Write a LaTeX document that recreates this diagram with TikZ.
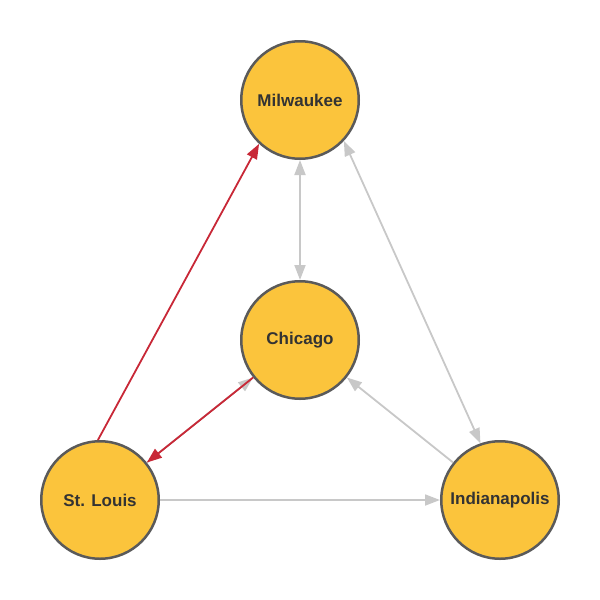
\documentclass[tikz,border=0pt]{standalone}
\usepackage{fontspec}
\setmainfont{Liberation Sans}
\usetikzlibrary{arrows.meta}
\definecolor{cityfill}{RGB}{251,196,60}
\definecolor{bordergray}{RGB}{90,90,90}
\definecolor{linkgray}{RGB}{200,200,200}
\definecolor{linkred}{RGB}{200,40,55}
\definecolor{textgray}{RGB}{51,51,51}
\begin{document}
\begin{tikzpicture}[x=1pt,y=-1pt,
  city/.style={circle,draw=bordergray,line width=2.5pt,fill=cityfill,minimum size=117.5pt,inner sep=0pt,font=\bfseries\fontsize{17}{20}\selectfont,text=textgray},
  tipa/.tip={Triangle[length=15pt,width=11pt]},
  link/.style={draw=linkgray,line width=1.8pt},
  redlink/.style={draw=linkred,line width=1.8pt}]
\useasboundingbox (0,0) rectangle (600,600);
\node[city] (mil) at (300,100) {Milwaukee};
\node[city] (chi) at (300,340) {Chicago};
\node[city] (stl) at (100,500) {St. Louis};
\node[city] (ind) at (500,500) {Indianapolis};
\draw[link,{tipa}-{tipa}] (mil) -- (chi);
\draw[link,{tipa}-{tipa}] (mil.-43) -- (ind.109);
\draw[link,-{tipa}] (ind) -- (chi);
\draw[link,-{tipa}] (stl) -- (ind);
\draw[link,-{tipa}] (stl) -- (chi);
\draw[redlink,-{tipa}] (chi) -- (stl);
\draw[redlink,-{tipa}] (stl.92) -- (mil.227);
\end{tikzpicture}
\end{document}
